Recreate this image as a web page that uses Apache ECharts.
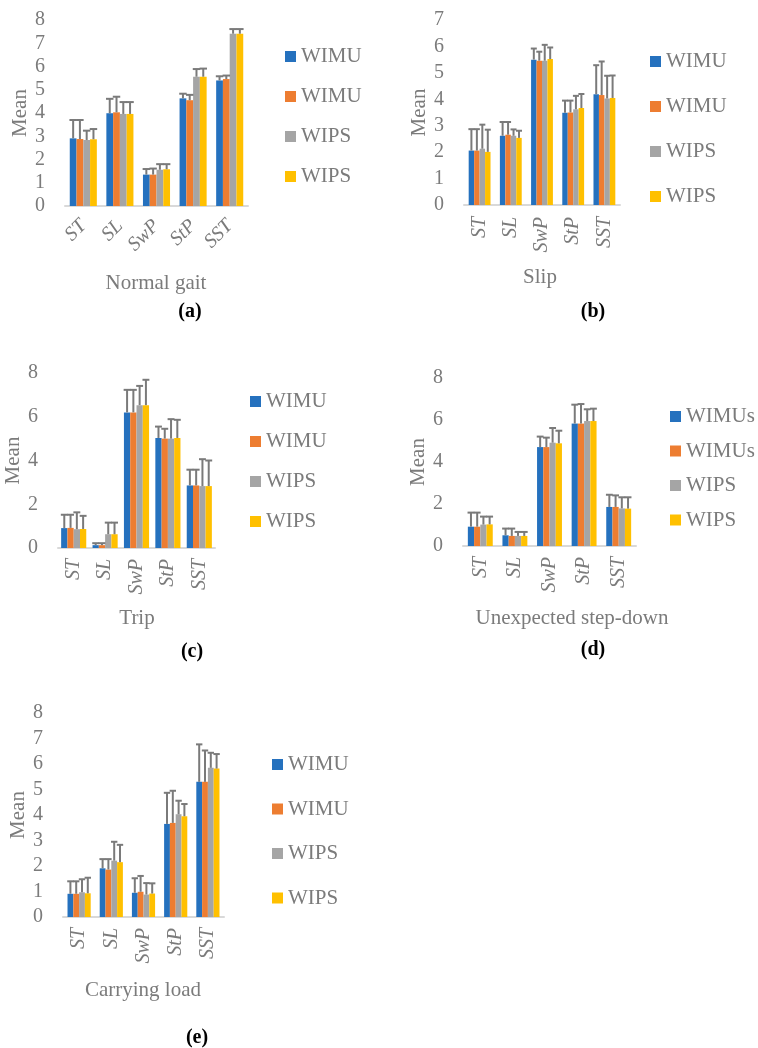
<!DOCTYPE html>
<html>
<head>
<meta charset="utf-8">
<script src="https://cdn.jsdelivr.net/npm/echarts@6/dist/echarts.min.js"></script>
<style>
html,body{margin:0;padding:0;background:#fff;}
#chart{width:758px;height:1048px;}
</style>
</head>
<body>
<div id="chart"></div>
<script>
// ---------- DATA ----------
const categories = ['ST', 'SL', 'SwP', 'StP', 'SST'];
const legendLabelsABCE = ['WIMU', 'WIMU', 'WIPS', 'WIPS'];
const legendLabelsD = ['WIMUs', 'WIMUs', 'WIPS', 'WIPS'];
const panelTitles = ['Normal gait', 'Slip', 'Trip', 'Unexpected step-down', 'Carrying load'];
const panelCaptions = ['(a)', '(b)', '(c)', '(d)', '(e)'];

// (a) Normal gait
const aMean1 = [2.91, 3.99, 1.35, 4.63, 5.40];
const aMean2 = [2.88, 4.03, 1.35, 4.55, 5.46];
const aMean3 = [2.84, 3.96, 1.56, 5.56, 7.41];
const aMean4 = [2.87, 3.96, 1.58, 5.56, 7.41];
const aSd1 = [0.79, 0.62, 0.24, 0.20, 0.18];
const aSd2 = [0.82, 0.67, 0.26, 0.23, 0.15];
const aSd3 = [0.40, 0.51, 0.24, 0.33, 0.20];
const aSd4 = [0.44, 0.51, 0.22, 0.35, 0.20];

// (b) Slip
const bMean1 = [2.06, 2.62, 5.50, 3.49, 4.19];
const bMean2 = [2.06, 2.66, 5.46, 3.50, 4.16];
const bMean3 = [2.13, 2.62, 5.46, 3.62, 4.03];
const bMean4 = [2.01, 2.54, 5.52, 3.67, 4.05];
const bSd1 = [0.81, 0.52, 0.42, 0.46, 1.10];
const bSd2 = [0.81, 0.48, 0.34, 0.45, 1.27];
const bSd3 = [0.91, 0.24, 0.60, 0.51, 0.86];
const bSd4 = [0.84, 0.27, 0.44, 0.53, 0.85];

// (c) Trip
const cMean1 = [0.91, 0.13, 6.20, 5.03, 2.86];
const cMean2 = [0.92, 0.13, 6.20, 5.00, 2.86];
const cMean3 = [0.86, 0.63, 6.53, 5.00, 2.83];
const cMean4 = [0.87, 0.63, 6.53, 5.03, 2.83];
const cSd1 = [0.61, 0.09, 1.03, 0.52, 0.72];
const cSd2 = [0.60, 0.09, 1.03, 0.45, 0.72];
const cSd3 = [0.77, 0.53, 0.88, 0.89, 1.23];
const cSd4 = [0.60, 0.53, 1.16, 0.83, 1.17];

// (d) Unexpected step-down
const dMean1 = [0.92, 0.51, 4.71, 5.83, 1.86];
const dMean2 = [0.92, 0.48, 4.71, 5.83, 1.86];
const dMean3 = [1.02, 0.48, 4.92, 5.95, 1.79];
const dMean4 = [1.03, 0.48, 4.89, 5.95, 1.78];
const dSd1 = [0.67, 0.32, 0.50, 0.90, 0.58];
const dSd2 = [0.67, 0.35, 0.45, 0.93, 0.55];
const dSd3 = [0.38, 0.19, 0.70, 0.56, 0.53];
const dSd4 = [0.37, 0.19, 0.60, 0.59, 0.54];

// (e) Carrying load
const eMean1 = [0.91, 1.91, 0.95, 3.65, 5.30];
const eMean2 = [0.91, 1.86, 0.99, 3.69, 5.30];
const eMean3 = [0.97, 2.21, 0.88, 4.03, 5.85];
const eMean4 = [0.93, 2.15, 0.92, 3.95, 5.82];
const eSd1 = [0.49, 0.36, 0.57, 1.22, 1.47];
const eSd2 = [0.49, 0.41, 0.62, 1.26, 1.23];
const eSd3 = [0.51, 0.74, 0.45, 0.53, 0.59];
const eSd4 = [0.61, 0.68, 0.40, 0.48, 0.57];

// axis ranges
const yMax = [8, 7, 8, 8, 8];
const yInterval = [1, 1, 2, 2, 1];

// ---------- STYLE / LAYOUT ----------
const colors = ['#2571be', '#ED7D31', '#A5A5A5', '#FFC000'];
const errColor = '#7a7a7a';
const txtColor = '#7b7b7b';
const FONT = 'Liberation Serif';

const panels = [
  {means:[aMean1,aMean2,aMean3,aMean4], sds:[aSd1,aSd2,aSd3,aSd4], legend:legendLabelsABCE,
   grid:{left:65,top:20,width:183,height:186}, gap:0.26, rot:45, lblMargin:17,
   legend_pos:{left:280,top:41,gap:19}, title:{x:156,y:283}, cap:{x:190,y:312}},
  {means:[bMean1,bMean2,bMean3,bMean4], sds:[bSd1,bSd2,bSd3,bSd4], legend:legendLabelsABCE,
   grid:{left:464,top:20,width:156,height:185}, gap:0.30, rot:90, lblMargin:12,
   legend_pos:{left:645,top:46,gap:24}, title:{x:540,y:277}, cap:{x:593,y:312}},
  {means:[cMean1,cMean2,cMean3,cMean4], sds:[cSd1,cSd2,cSd3,cSd4], legend:legendLabelsABCE,
   grid:{left:58,top:373,width:157,height:175}, gap:0.20, rot:90, lblMargin:11,
   legend_pos:{left:245,top:386,gap:19}, title:{x:137,y:618}, cap:{x:192,y:652}},
  {means:[dMean1,dMean2,dMean3,dMean4], sds:[dSd1,dSd2,dSd3,dSd4], legend:legendLabelsD,
   grid:{left:463,top:378,width:173,height:168}, gap:0.28, rot:90, lblMargin:11,
   legend_pos:{left:665,top:401,gap:13.5}, title:{x:572,y:618}, cap:{x:593,y:650}},
  {means:[eMean1,eMean2,eMean3,eMean4], sds:[eSd1,eSd2,eSd3,eSd4], legend:legendLabelsABCE,
   grid:{left:63,top:713,width:161,height:204}, gap:0.28, rot:90, lblMargin:11,
   legend_pos:{left:267,top:749,gap:23.5}, title:{x:143,y:990}, cap:{x:197,y:1038}}
];

const grids = [], xAxes = [], yAxes = [], series = [], legends = [], graphics = [];
const nameMap = {};

panels.forEach((p, pi) => {
  grids.push(Object.assign({containLabel:false}, p.grid));
  xAxes.push({
    type:'category', gridIndex:pi, data:categories,
    axisLine:{show:true, lineStyle:{color:'#d9d9d9', width:2}},
    axisTick:{show:false},
    axisLabel:{rotate:p.rot, margin:p.lblMargin, fontFamily:FONT, fontStyle:'italic', fontSize:20, color:txtColor, interval:0}
  });
  yAxes.push({
    type:'value', gridIndex:pi, min:0, max:yMax[pi], interval:yInterval[pi],
    name:'Mean', nameLocation:'middle', nameRotate:90, nameGap:34,
    nameTextStyle:{fontFamily:FONT, fontSize:21, color:txtColor},
    axisLine:{show:false}, axisTick:{show:false}, splitLine:{show:false},
    axisLabel:{margin:20, fontFamily:FONT, fontSize:20, color:txtColor}
  });
  const names = [];
  for (let i = 0; i < 4; i++) {
    const sname = 'p' + pi + 's' + i;
    names.push(sname);
    nameMap[sname] = p.legend[i];
    series.push({
      type:'bar', name:sname, xAxisIndex:pi, yAxisIndex:pi,
      data:p.means[i], barGap:'0%', barCategoryGap:(p.gap*100)+'%',
      itemStyle:{color:colors[i]}, z:2
    });
  }
  for (let i = 0; i < 4; i++) {
    const gap = p.gap;
    const idx = i;
    series.push({
      type:'custom', xAxisIndex:pi, yAxisIndex:pi, z:3, silent:true,
      data:categories.map((c, k) => [k, p.means[i][k], p.means[i][k] + p.sds[i][k]]),
      renderItem:function(params, api){
        const base = api.coord([api.value(0), api.value(1)]);
        const top = api.coord([api.value(0), api.value(2)]);
        const band = api.size([1, 0])[0];
        const barW = band * (1 - gap) / 4;
        const x = base[0] + (idx - 1.5) * barW;
        const capW = barW * 1.1;
        const st = {stroke:errColor, lineWidth:2};
        return {type:'group', children:[
          {type:'line', shape:{x1:x, y1:base[1], x2:x, y2:top[1]}, style:st},
          {type:'line', shape:{x1:x - capW/2, y1:top[1], x2:x + capW/2, y2:top[1]}, style:st}
        ]};
      }
    });
  }
  legends.push({
    orient:'vertical', left:p.legend_pos.left, top:p.legend_pos.top,
    itemGap:p.legend_pos.gap, itemWidth:11, itemHeight:11, icon:'rect',
    data:names, selectedMode:false,
    formatter:(n) => nameMap[n],
    textStyle:{fontFamily:FONT, fontSize:21, color:txtColor, padding:[0,0,0,0]}
  });
  graphics.push({
    type:'text', x:p.title.x, y:p.title.y,
    style:{text:panelTitles[pi], fontFamily:FONT, fontSize:21, fill:txtColor, align:'center', verticalAlign:'middle'}
  });
  graphics.push({
    type:'text', x:p.cap.x, y:p.cap.y,
    style:{text:panelCaptions[pi], fontFamily:FONT, fontSize:20, fontWeight:'bold', fill:'#000', align:'center', verticalAlign:'middle'}
  });
});

const chart = echarts.init(document.getElementById('chart'), null, {renderer:'canvas'});
chart.setOption({
  backgroundColor:'#fff',
  animation:false,
  grid:grids, xAxis:xAxes, yAxis:yAxes, series:series, legend:legends, graphic:graphics
});
</script>
</body>
</html>
